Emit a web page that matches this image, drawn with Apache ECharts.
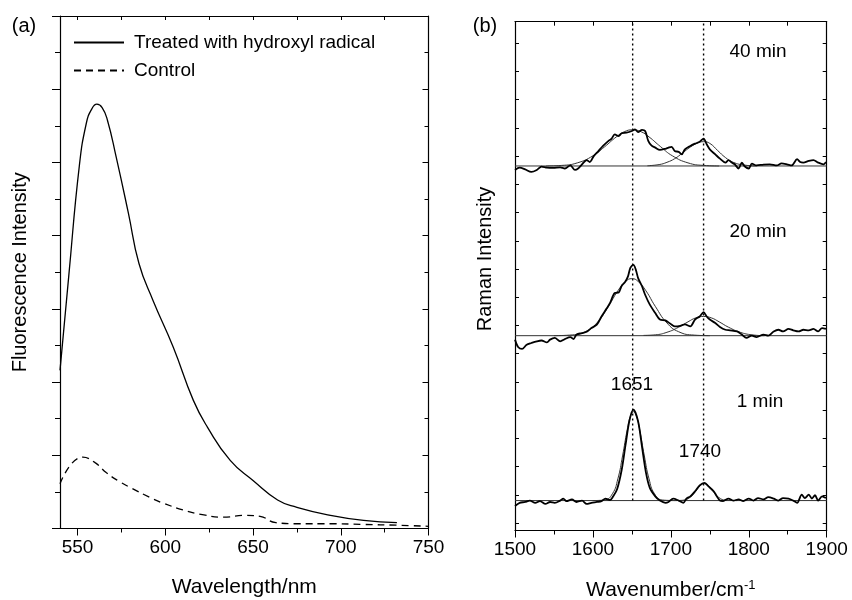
<!DOCTYPE html>
<html>
<head>
<meta charset="utf-8">
<script src="https://cdn.jsdelivr.net/npm/echarts@6.0.0/dist/echarts.min.js"></script>
<style>
html, body { margin: 0; padding: 0; background: #fff; }
#chart { width: 852px; height: 600px; }
</style>
</head>
<body>
<div id="chart"></div>
<script>
// (a) fluorescence spectra
var wlTreated = [540, 545, 551, 555, 558, 561, 564, 567, 572, 579, 585, 593, 604.5, 616, 624, 637, 650, 664, 675, 694, 713, 732];
var fluTreated = [4.32, 6.9, 9.9, 11.07, 11.45, 11.59, 11.5, 11.16, 10.15, 8.61, 7.24, 6.23, 4.96, 3.5, 2.77, 1.86, 1.31, 0.78, 0.58, 0.36, 0.22, 0.16];
var wlControl = [540, 553, 560, 566.5, 574, 580, 593, 599, 610, 622, 633, 646, 654, 663, 675, 694, 713, 732, 750];
var fluControl = [1.22, 1.95, 1.8, 1.52, 1.28, 1.12, 0.81, 0.69, 0.51, 0.37, 0.31, 0.36, 0.33, 0.16, 0.13, 0.13, 0.11, 0.09, 0.06];
var wlMajorTicks = [550, 600, 650, 700, 750];
var wlMinorTicks = [575, 625, 675, 725];
var wlTopTicks = [550, 575, 600, 625, 650, 675, 700, 725, 750];

// (b) Raman spectra, intensity above each trace's own baseline
var wn40 = [1500,1506,1513,1521,1528,1534,1541,1549,1558,1564,1571,1577,1581,1586,1592,1596,1601,1607,1613,1620,1624,1628,1633,1637,1643,1650,1654,1658,1663,1667,1671,1675,1680,1686,1693,1697,1701,1705,1710,1714,1718,1725,1731,1737,1742,1746,1750,1757,1763,1770,1774,1778,1782,1787,1791,1795,1800,1804,1810,1819,1827,1836,1842,1849,1855,1862,1866,1870,1877,1883,1889,1896,1899];
var raman40 = [-0.14,-0.06,-0.12,-0.21,-0.14,-0.02,-0.06,-0.07,-0.05,-0.09,0.02,-0.14,-0.09,0.06,0.21,0.14,0.35,0.53,0.71,0.89,0.97,1.12,1.06,1.16,1.18,1.24,1.30,1.20,1.28,1.24,0.89,0.73,0.65,0.57,0.61,0.65,0.68,0.53,0.50,0.41,0.59,0.71,0.79,0.86,0.97,0.77,0.59,0.41,0.26,0.12,0.21,0.12,0.06,-0.09,0.12,-0.02,-0.09,0.08,0.02,0.05,0.06,0.02,0.09,0.06,0.02,0.24,0.14,0.12,0.18,0.21,0.12,0.06,0.14];
var wn20 = [1500,1504,1509,1515,1521,1528,1534,1541,1545,1551,1558,1564,1571,1575,1579,1586,1592,1598,1605,1611,1618,1622,1628,1633,1637,1641,1645,1648,1652,1655,1658,1663,1667,1673,1680,1686,1693,1699,1705,1712,1718,1725,1731,1737,1742,1746,1750,1757,1763,1770,1776,1785,1791,1797,1804,1810,1819,1825,1832,1838,1844,1851,1857,1864,1870,1877,1883,1889,1894,1899];
var raman20 = [-0.14,-0.40,-0.47,-0.32,-0.26,-0.20,-0.17,-0.24,-0.14,-0.08,-0.20,-0.12,-0.05,-0.12,0.04,0.09,0.14,0.27,0.39,0.68,0.98,1.16,1.51,1.53,1.77,1.89,2.10,2.40,2.51,2.34,2.04,1.75,1.45,1.10,0.80,0.57,0.54,0.43,0.33,0.35,0.40,0.33,0.57,0.68,0.83,0.68,0.57,0.45,0.31,0.21,0.19,0.15,0.04,-0.08,0,-0.05,0.04,0,0.15,0.21,0.15,0.24,0.19,0.15,0.21,0.19,0.24,0.15,0.27,0.24];
var wn1 = [1500,1506,1513,1519,1526,1532,1539,1545,1551,1558,1562,1566,1573,1579,1586,1592,1598,1605,1611,1616,1622,1626,1631,1637,1642,1647,1652,1658,1663,1668,1673,1680,1686,1693,1697,1703,1710,1716,1720,1725,1731,1737,1743,1748,1755,1759,1763,1767,1774,1780,1787,1793,1800,1806,1812,1819,1825,1832,1838,1844,1851,1857,1862,1868,1872,1877,1881,1885,1889,1894,1899];
var raman1 = [-0.19,-0.08,-0.05,0,-0.08,-0.02,-0.12,-0.05,-0.08,0,0.07,-0.02,0.04,-0.05,0,-0.12,-0.08,-0.05,-0.02,0.07,0.02,0.15,0.40,1.10,2.00,2.85,3.22,2.80,1.90,1.00,0.45,0.15,0,-0.08,-0.05,0.07,0,-0.08,0.07,0.15,0.33,0.54,0.63,0.51,0.33,0.15,0,-0.02,0.07,0,0.04,-0.02,0.07,0,0.09,0.04,0.12,0.07,0,0.09,0.07,0,-0.08,0.21,0.09,0.21,0.07,0.19,0,0.15,0.09];

// fitted bands
var fit40aWn = [1540,1560,1580,1600,1615,1630,1640,1651,1662,1672,1687,1702,1722,1742,1762];
var fit40aVal = [0,0.02,0.11,0.36,0.68,1.03,1.21,1.28,1.21,1.03,0.68,0.36,0.11,0.02,0];
var fit40bWn = [1670,1685,1695,1705,1715,1725,1735,1742,1750,1760,1770,1780,1795,1810];
var fit40bVal = [0.01,0.05,0.13,0.26,0.46,0.67,0.82,0.86,0.80,0.55,0.30,0.13,0.03,0];
var fit20aWn = [1550,1570,1590,1605,1620,1632,1642,1650,1658,1668,1680,1695,1710,1730,1750];
var fit20aVal = [0,0.02,0.14,0.45,1.04,1.59,1.92,2.02,1.92,1.59,1.04,0.45,0.14,0.02,0];
var fit20bWn = [1665,1680,1695,1710,1722,1732,1742,1752,1762,1774,1789,1804,1820];
var fit20bVal = [0.01,0.03,0.12,0.30,0.49,0.63,0.68,0.63,0.49,0.30,0.12,0.03,0];
var fit1aWn = [1600,1615,1625,1632,1638,1644,1648,1652,1656,1660,1666,1672,1679,1689,1705];
var fit1aVal = [0,0.02,0.24,0.77,1.58,2.51,2.98,3.15,2.98,2.51,1.58,0.77,0.24,0.02,0];
var fit1bWn = [1705,1715,1725,1732,1738,1743,1748,1754,1761,1771,1785];
var fit1bVal = [0,0.01,0.12,0.33,0.53,0.6,0.53,0.33,0.12,0.01,0];

var offset40 = 12.65, offset20 = 6.64, offset1 = 0.80; // stacking offsets
var bandCenters = [1651, 1742];
var ramanTicks = [0,1,2,3,4,5,6,7,8,9,10,11,12,13,14,15,16,17];
var ramanMin = -0.26, ramanMax = 17.76;

var FONT = 'Liberation Sans, Arial, Helvetica, sans-serif';

function pairs(xs, ys, off) {
	var out = [];
	for (var i = 0; i < xs.length; i++) {
		out.push([xs[i], ys[i] + (off || 0)]);
	}
	return out;
}

function lineSeries(data, width, color, xi, yi, extra) {
	var s = {
		type : 'line',
		data : data,
		xAxisIndex : xi,
		yAxisIndex : yi,
		showSymbol : false,
		symbol : 'none',
		smooth : 0.3,
		silent : true,
		animation : false,
		itemStyle : { color : color },
		lineStyle : { color : color, width : width }
	};
	for (var k in extra) s[k] = extra[k];
	return s;
}

var axisLine = { show : true, onZero : false, lineStyle : { color : '#000', width : 1.2 } };
var tickStyle = { color : '#000', width : 1 };
var plainNum = function(v) { return String(v); };

var series = [];
// (a)
series.push(lineSeries(pairs(wlTreated, fluTreated), 1.3, '#000', 0, 0, { name : 'Treated with hydroxyl radical', smooth : 0.5 }));
series.push(lineSeries(pairs(wlControl, fluControl), 1.3, '#000', 0, 0, { name : 'Control', smooth : 0.5 }));
series[1].lineStyle.type = [7, 5];

// (b) baselines
[offset40, offset20, offset1].forEach(function(off) {
	series.push(lineSeries([[1500, off], [1900, off]], 1, '#333', 3, 2, { smooth : false }));
});
// band positions (dotted)
bandCenters.forEach(function(c) {
	series.push(lineSeries([[c, offset1], [c, ramanMax]], 1.4, '#000', 3, 2, {
		smooth : false,
		lineStyle : { color : '#000', width : 1.4, type : [2, 3] }
	}));
});
// fitted bands (thin)
[[fit40aWn, fit40aVal, offset40], [fit40bWn, fit40bVal, offset40],
 [fit20aWn, fit20aVal, offset20], [fit20bWn, fit20bVal, offset20],
 [fit1aWn, fit1aVal, offset1], [fit1bWn, fit1bVal, offset1]].forEach(function(f) {
	series.push(lineSeries(pairs(f[0], f[1], f[2]), 1, '#333', 3, 2, { smooth : 0.5 }));
});
// measured spectra (thick)
series.push(lineSeries(pairs(wn40, raman40, offset40), 1.8, '#000', 3, 2, {}));
series.push(lineSeries(pairs(wn20, raman20, offset20), 1.8, '#000', 3, 2, {}));
series.push(lineSeries(pairs(wn1, raman1, offset1), 1.8, '#000', 3, 2, {}));

function txt(text, x, y, size, rot) {
	return {
		type : 'text',
		x : x,
		y : y,
		rotation : rot || 0,
		silent : true,
		style : {
			text : text,
			fill : '#000',
			font : size + 'px ' + FONT,
			align : 'center',
			verticalAlign : 'middle'
		}
	};
}

var option = {
	animation : false,
	backgroundColor : '#fff',
	textStyle : { fontFamily : FONT, color : '#000' },
	grid : [
		{ left : 60, top : 16, width : 368.5, height : 512.5, outerBoundsMode : 'none' },
		{ left : 515, top : 21.7, width : 311.7, height : 508.8, outerBoundsMode : 'none' }
	],
	legend : {
		data : [ 'Treated with hydroxyl radical', 'Control' ],
		orient : 'vertical',
		left : 73,
		top : 33,
		padding : 0,
		itemWidth : 50,
		itemHeight : 20,
		itemGap : 9,
		selectedMode : false,
		itemStyle : { opacity : 0 },
		textStyle : { fontSize : 19, color : '#000', fontFamily : FONT, padding : [0, 0, 0, 5] }
	},
	xAxis : [ {
		// (a) bottom, major ticks + labels
		type : 'value', gridIndex : 0, position : 'bottom', min : 540, max : 750,
		name : 'Wavelength/nm', nameLocation : 'middle', nameGap : 48,
		nameTextStyle : { fontSize : 21, color : '#000' },
		axisLine : axisLine,
		axisTick : { show : true, customValues : wlMajorTicks, length : 7, lineStyle : tickStyle },
		axisLabel : { customValues : wlMajorTicks, fontSize : 19, color : '#000', margin : 10, formatter : plainNum },
		splitLine : { show : false }
	}, {
		// (a) bottom, minor ticks
		type : 'value', gridIndex : 0, position : 'bottom', min : 540, max : 750,
		axisLine : { show : false },
		axisTick : { show : true, customValues : wlMinorTicks, length : 4, lineStyle : tickStyle },
		axisLabel : { show : false },
		splitLine : { show : false }
	}, {
		// (a) top
		type : 'value', gridIndex : 0, position : 'top', min : 540, max : 750,
		axisLine : axisLine,
		axisTick : { show : true, inside : true, customValues : wlTopTicks, length : 4, lineStyle : tickStyle },
		axisLabel : { show : false },
		splitLine : { show : false }
	}, {
		// (b) bottom
		type : 'value', gridIndex : 1, position : 'bottom', min : 1500, max : 1900, interval : 100,
		name : 'Wavenumber/cm{sup|-1}', nameLocation : 'middle', nameGap : 48,
		nameTextStyle : { fontSize : 21, color : '#000', rich : { sup : { fontSize : 13, verticalAlign : 'top', padding : [0, 0, 10, 0] } } },
		axisLine : axisLine,
		axisTick : { show : true, length : 7, lineStyle : tickStyle },
		minorTick : { show : true, splitNumber : 2, length : 4, lineStyle : tickStyle },
		axisLabel : { fontSize : 19, color : '#000', margin : 10, formatter : plainNum },
		splitLine : { show : false }
	}, {
		// (b) top
		type : 'value', gridIndex : 1, position : 'top', min : 1500, max : 1900, interval : 50,
		axisLine : axisLine,
		axisTick : { show : true, inside : true, length : 4, lineStyle : tickStyle },
		axisLabel : { show : false },
		splitLine : { show : false }
	} ],
	yAxis : [ {
		type : 'value', gridIndex : 0, position : 'left', min : 0, max : 14, interval : 2,
		name : 'Fluorescence Intensity', nameLocation : 'middle', nameGap : 30,
		nameTextStyle : { fontSize : 20, color : '#000' },
		axisLine : axisLine,
		axisTick : { show : true, length : 8, lineStyle : tickStyle },
		minorTick : { show : true, splitNumber : 2, length : 5, lineStyle : tickStyle },
		axisLabel : { show : false },
		splitLine : { show : false }
	}, {
		type : 'value', gridIndex : 0, position : 'right', min : 0, max : 14, interval : 2,
		axisLine : axisLine,
		axisTick : { show : true, inside : true, length : 6, lineStyle : tickStyle },
		minorTick : { show : true, splitNumber : 2, length : 4, lineStyle : tickStyle },
		axisLabel : { show : false },
		splitLine : { show : false }
	}, {
		type : 'value', gridIndex : 1, position : 'left', min : ramanMin, max : ramanMax,
		axisLine : axisLine,
		axisTick : { show : true, inside : true, customValues : ramanTicks, length : 4, lineStyle : tickStyle },
		axisLabel : { show : false },
		splitLine : { show : false }
	}, {
		type : 'value', gridIndex : 1, position : 'right', min : ramanMin, max : ramanMax,
		axisLine : axisLine,
		axisTick : { show : true, inside : true, customValues : ramanTicks, length : 4, lineStyle : tickStyle },
		axisLabel : { show : false },
		splitLine : { show : false }
	} ],
	graphic : [
		txt('(a)', 24, 26, 20),
		txt('(b)', 485, 26, 20),
		txt('Raman Intensity', 485, 259, 20, Math.PI / 2),
		txt('40 min', 758, 52, 19),
		txt('20 min', 758, 232, 19),
		txt('1 min', 760, 402, 19),
		txt('1651', 632, 385, 19),
		txt('1740', 700, 452, 19)
	],
	series : series
};

var myChart = echarts.init(document.getElementById('chart'), null, { renderer : 'canvas' });
myChart.setOption(option);
</script>
</body>
</html>
